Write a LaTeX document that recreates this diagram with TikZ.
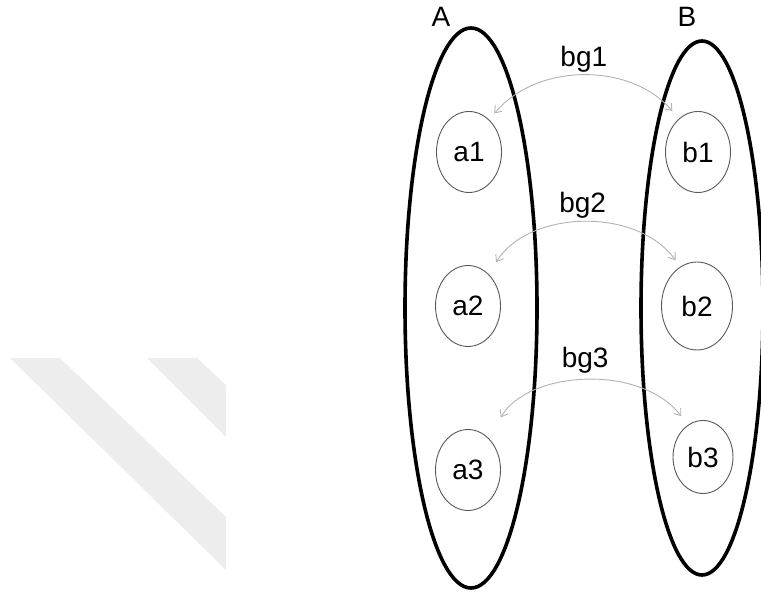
\documentclass[tikz,border=0pt]{standalone}
\usepackage{fontspec}
\setmainfont{Liberation Sans}
\usetikzlibrary{positioning,shapes.geometric,arrows.meta}

\begin{document}
\begin{tikzpicture}[x=1pt,y=-1pt,font=\fontsize{28}{32}\selectfont]
  \tikzstyle{set}=[draw,ellipse,line width=3.6pt,inner sep=0pt]
  \tikzstyle{elem}=[draw=black!65,ellipse,line width=0.9pt,inner sep=0pt,
    minimum width=65pt,minimum height=81pt]
  \tikzstyle{bridge}=[draw=black!30,line width=0.9pt,
    {Straight Barb[length=6pt,width=9pt]}-{Straight Barb[length=6pt,width=9pt]}]
  \useasboundingbox (0,0) rectangle (761,593);
  % watermark
  \fill[black!7] (10,358) -- (60,358) -- (226,517) -- (226,570) -- cycle;
  \fill[black!7] (147,358) -- (197,358) -- (226,385) -- (226,437) -- cycle;
  % the two sets
  \node (A) [set,minimum width=132pt,minimum height=560pt] at (471,308) {};
  \node (B) [set,minimum width=122pt,minimum height=534pt] at (702,308) {};
  \node (Alab) at (441,17) {A};
  \node (Blab) at (687,17) {B};
  % elements
  \node (a1) [elem] at (469,152) {a1};
  \node (a2) [elem] at (468,306) {a2};
  \node (a3) [elem] at (468,470) {a3};
  \node (b1) [elem] at (698,152) {b1};
  \node (b2) [elem,minimum width=71pt,minimum height=88pt] at (697,306) {b2};
  \node (b3) [elem,minimum width=60pt,minimum height=73pt] at (703,457) {b3};
  \path
  (a1.58) edge[bridge,bend left=50,shorten <=8pt,shorten >=10pt] node[above] {bg1} (b1.120)
  (a2.57) edge[bridge,bend left=56,shorten <=14pt,shorten >=8pt] node[above,yshift=2pt] {bg2} (b2.113)
  (a3.57) edge[bridge,bend left=56,shorten <=24pt,shorten >=11pt] node[above,yshift=6pt] {bg3} (b3.115)
  ;
\end{tikzpicture}
\end{document}
